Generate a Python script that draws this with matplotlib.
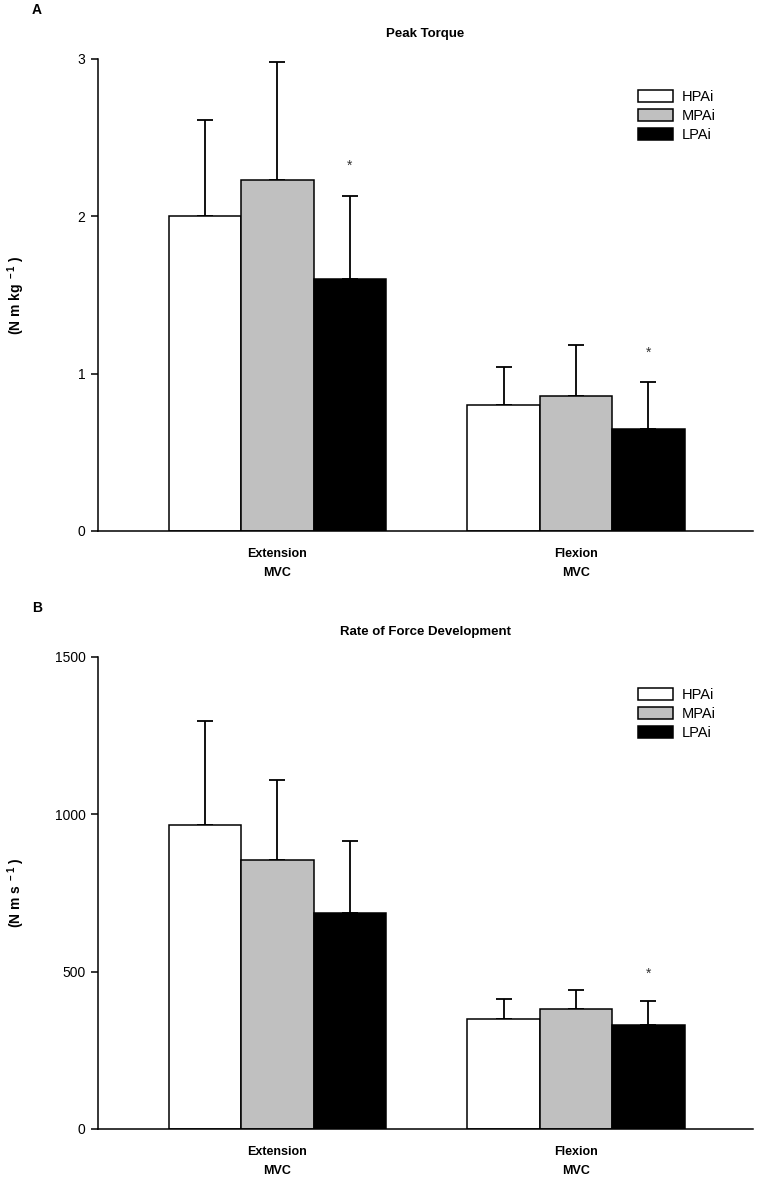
import matplotlib
matplotlib.use("Agg")
import matplotlib.pyplot as plt
from matplotlib.patches import Patch
import numpy as np

plt.rcParams['font.family'] = ['Liberation Sans', 'DejaVu Sans']
plt.rcParams['mathtext.fontset'] = 'custom'
plt.rcParams['mathtext.rm'] = 'Liberation Sans:bold'
plt.rcParams['mathtext.bf'] = 'Liberation Sans:bold'
plt.rcParams['mathtext.default'] = 'rm'

categories = ["Extension\nMVC", "Flexion\nMVC"]
groups = ["HPAi", "MPAi", "LPAi"]
colors = ["#ffffff", "#c0c0c0", "#000000"]

# Panel A: Peak Torque (N m kg-1)
torque_mean = {"HPAi": [2.00, 0.80], "MPAi": [2.23, 0.86], "LPAi": [1.60, 0.65]}
torque_sd = {"HPAi": [0.61, 0.24], "MPAi": [0.75, 0.32], "LPAi": [0.53, 0.30]}
torque_star = [("LPAi", 0, 2.32), ("LPAi", 1, 1.13)]

# Panel B: Rate of Force Development (N m s-1)
rfd_mean = {"HPAi": [967, 351], "MPAi": [856, 382], "LPAi": [686, 329]}
rfd_sd = {"HPAi": [330, 62], "MPAi": [253, 59], "LPAi": [230, 77]}
rfd_star = [("LPAi", 1, 492)]

fig = plt.figure(figsize=(7.59, 11.84), dpi=100)
W, H = 759, 1184

def make_axes(top_px, bottom_px):
    left, right = 98, 753
    return fig.add_axes([left / W, (H - bottom_px) / H, (right - left) / W, (bottom_px - top_px) / H])

width = 0.2425
offsets = [-width, 0, width]
xpos = np.arange(len(categories))

def draw(ax, means, sds, stars, ymax, yticks, title, ylabel, letter, letter_y):
    for g, off, c in zip(groups, offsets, colors):
        m = np.array(means[g], dtype=float)
        s = np.array(sds[g], dtype=float)
        ax.errorbar(xpos + off, m, yerr=[np.zeros_like(s), s], fmt='none',
                    ecolor='black', elinewidth=1.3, capsize=5.5, capthick=1.3, zorder=1)
        ax.bar(xpos + off, m, width=width, color=c, edgecolor='black', linewidth=1.1,
               label=g, zorder=2)
    for g, i, y in stars:
        ax.text(xpos[i] + offsets[groups.index(g)], y, "*", ha='center', va='center',
                fontsize=10, color='#333333')
    ax.set_xlim(-0.601, 1.593)
    ax.set_ylim(0, ymax)
    ax.set_yticks(yticks)
    ax.set_yticklabels([str(t) for t in yticks], fontsize=10)
    ax.set_xticks(xpos)
    ax.set_xticklabels(categories, fontsize=9, fontweight='bold', linespacing=1.8)
    ax.tick_params(axis='x', length=0, pad=12)
    ax.tick_params(axis='y', length=5, width=1.1, direction='out', pad=4)
    for sp in ['top', 'right']:
        ax.spines[sp].set_visible(False)
    for sp in ['left', 'bottom']:
        ax.spines[sp].set_linewidth(1.1)
    ax.set_title(title, fontsize=9.5, fontweight='bold', pad=16)
    ax.set_ylabel(ylabel, fontsize=10, fontweight='bold')
    ax.yaxis.set_label_coords(-0.108, 0.5)
    handles = [Patch(facecolor=c, edgecolor='black', linewidth=1.1) for c in colors]
    ax.legend(handles, groups, loc='upper left', bbox_to_anchor=(0.824, 0.935),
              frameon=False, fontsize=10.5, handlelength=2.4, handleheight=0.9,
              handletextpad=0.6, labelspacing=0.35, borderpad=0, borderaxespad=0)
    fig.text(32 / W, 1 - letter_y / H, letter, fontsize=10, fontweight='bold',
             ha='left', va='center')

axA = make_axes(59, 531)
draw(axA, torque_mean, torque_sd, torque_star, 3, [0, 1, 2, 3], "Peak Torque",
     r"(N m kg$^{\,\,-1}$ )", "A", 10)

axB = make_axes(657, 1129)
draw(axB, rfd_mean, rfd_sd, rfd_star, 1500, [0, 500, 1000, 1500],
     "Rate of Force Development", r"(N m s$^{\,\,-1}$ )", "B", 608)

fig.savefig("out.png", dpi=100)
